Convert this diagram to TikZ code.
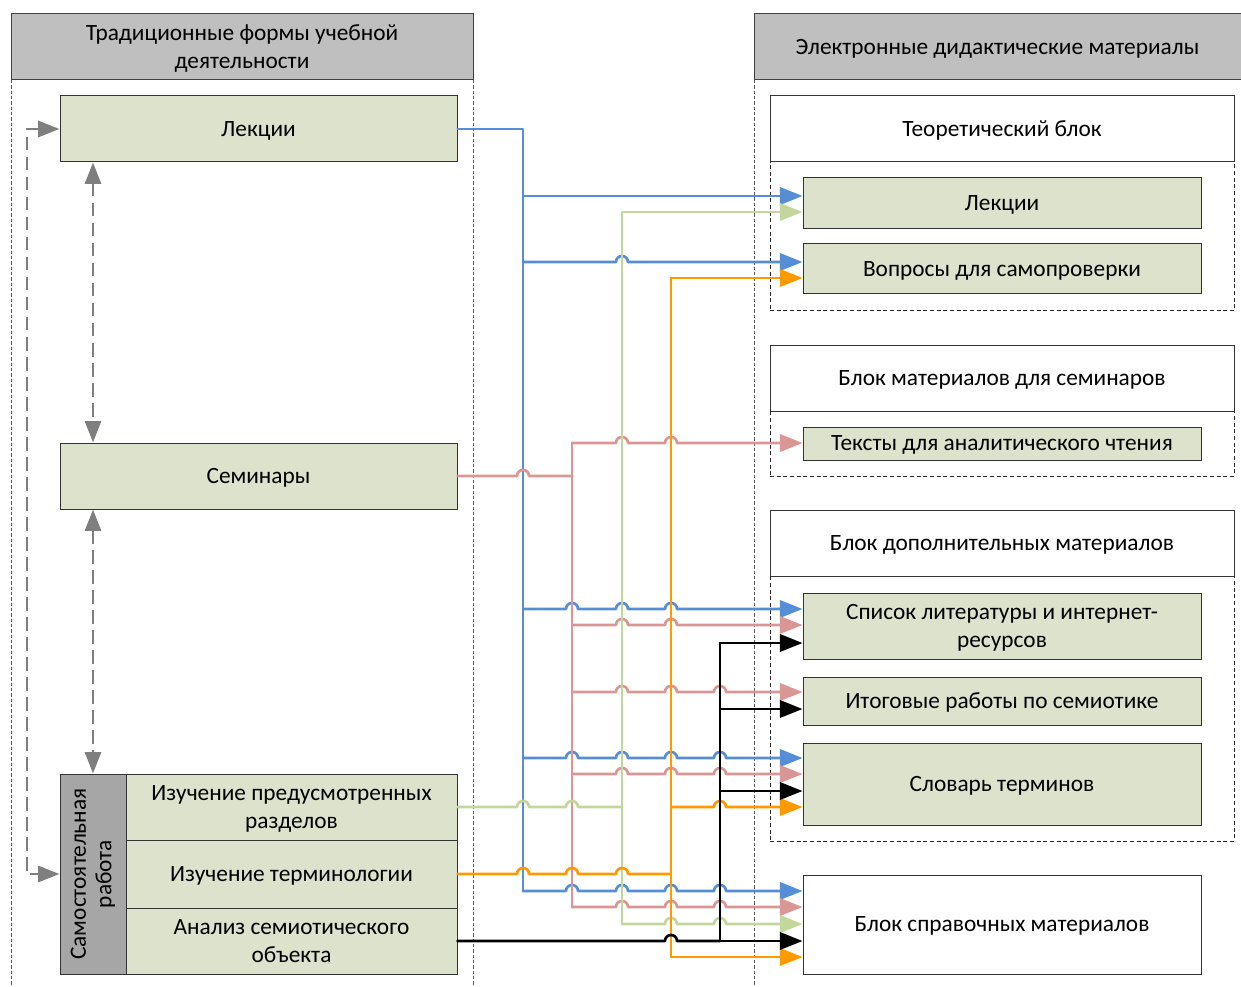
\documentclass[tikz,border=0pt]{standalone}
\usepackage{fontspec}
\setmainfont{Carlito}
\usetikzlibrary{arrows.meta}
\definecolor{bl}{HTML}{558ED5}
\definecolor{pk}{HTML}{D99694}
\definecolor{gr}{HTML}{C3D69B}
\definecolor{org}{HTML}{FF9900}
\definecolor{boxc}{HTML}{DDE2CC}
\definecolor{hdrc}{HTML}{BFBFBF}
\definecolor{sidec}{HTML}{A6A6A6}
\definecolor{grayln}{HTML}{7F7F7F}
\newcommand\mystrut{\rule[-3pt]{0pt}{17pt}}
% \mybox{style}{x1}{y1}{x2}{y2}{name}{text}
\newcommand\mybox[7]{\node[#1, minimum width={(#4-#2)*0.75pt}, minimum height={(#5-#3)*0.75pt}] (#6) at ({(#2+#4)/2},{-(#3+#5)/2}) {\mystrut #7\mystrut};}
\begin{document}
\begin{tikzpicture}[x=0.75pt,y=0.75pt,
  font=\fontsize{17.5}{21}\selectfont,
  box/.style={draw=black!80,line width=0.75pt,fill=boxc,inner sep=0pt,align=center},
  wbox/.style={draw=black!80,line width=0.75pt,fill=white,inner sep=0pt,align=center},
  hdr/.style={draw=black!75,line width=0.75pt,fill=hdrc,inner sep=0pt,align=center},
  side/.style={draw=black!80,line width=0.75pt,fill=sidec,inner sep=0pt,align=center},
  dbox/.style={draw=black!85,line width=0.75pt,dash pattern=on 3pt off 2pt,inner sep=0pt},
  col/.style={draw=black!65,line width=0.75pt,dash pattern=on 2.5pt off 1.5pt},
  ln/.style={line width=2pt,line cap=round,line join=round},
  arr/.style={-{Triangle[length=17pt,width=13pt]}},
  ga/.style={grayln,line width=2pt,dash pattern=on 10pt off 5pt,
    {Triangle[length=16pt,width=12pt]}-{Triangle[length=16pt,width=12pt]}}
]
\useasboundingbox (0,0) rectangle (1241,-987);

% columns
\draw[col] (11,-80) -- (11,-987);
\draw[col] (473,-80) -- (473,-987);
\draw[col] (754,-80) -- (754,-987);
\mybox{hdr}{11}{14}{473}{80}{H1}{Традиционные формы учебной\\деятельности}
\mybox{hdr}{754}{14}{1241}{80}{H2}{Электронные дидактические материалы}

% left boxes
\mybox{box}{60}{96}{457}{162}{L1}{Лекции}
\mybox{box}{60}{443}{457}{509}{S1}{Семинары}
\node[side, minimum width=49.5pt, minimum height=150pt] (sam) at (93,-874) {\rotatebox{90}{\begin{tabular}{@{}c@{}}Самостоятельная\\[-2pt]работа\end{tabular}}};
\mybox{box}{126}{774}{457}{840}{r1}{Изучение предусмотренных\\разделов}
\mybox{box}{126}{840}{457}{908}{r2}{Изучение терминологии}
\mybox{box}{126}{908}{457}{974}{r3}{Анализ семиотического\\объекта}

% right blocks
\mybox{dbox}{770}{162}{1234}{311}{D1}{}
\mybox{wbox}{770}{96}{1234}{162}{B1}{Теоретический блок}
\mybox{box}{803}{178}{1201}{229}{R1}{Лекции}
\mybox{box}{803}{244}{1201}{294}{R2}{Вопросы для самопроверки}

\mybox{dbox}{770}{411}{1234}{476}{D2}{}
\mybox{wbox}{770}{345}{1234}{411}{B2}{Блок материалов для семинаров}
\mybox{box}{803}{427}{1201}{460}{T}{Тексты для аналитического чтения}

\mybox{dbox}{770}{576}{1234}{841}{D3}{}
\mybox{wbox}{770}{510}{1234}{576}{B3}{Блок дополнительных материалов}
\mybox{box}{803}{593}{1201}{659}{R5}{Список литературы и интернет-\\ресурсов}
\mybox{box}{803}{677}{1201}{725}{R6}{Итоговые работы по семиотике}
\mybox{box}{803}{743}{1201}{825}{R7}{Словарь терминов}

\mybox{wbox}{803}{875}{1201}{974}{S}{Блок справочных материалов}

% gray dashed arrows
\draw[ga] (L1.south -| 93,0) -- (S1.north -| 93,0);
\draw[ga] (S1.south -| 93,0) -- (sam.north);
\draw[ga] (L1.west) -- (27,-129) -- (27,-874) -- (sam.west);

% blue
\draw[ln,bl] (L1.east) -- (523,-129) -- (523,-891);
\draw[ln,bl,arr] (523,-196) -- (R1.west |- 0,-196);
\draw[ln,bl,arr] (523,-262) foreach \h in {622}{ -- ({\h-6},-262) arc[start angle=180,end angle=0,radius=4.5pt]} -- (R2.west |- 0,-262);
\draw[ln,bl,arr] (523,-609) foreach \h in {572,622,671}{ -- ({\h-6},-609) arc[start angle=180,end angle=0,radius=4.5pt]} -- (R5.west |- 0,-609);
\draw[ln,bl,arr] (523,-758) foreach \h in {572,622,671,720}{ -- ({\h-6},-758) arc[start angle=180,end angle=0,radius=4.5pt]} -- (R7.west |- 0,-758);
\draw[ln,bl,arr] (523,-891) foreach \h in {572,622,671,720}{ -- ({\h-6},-891) arc[start angle=180,end angle=0,radius=4.5pt]} -- (S.west |- 0,-891);

% pink
\draw[ln,pk] (S1.east) foreach \h in {523}{ -- ({\h-6},-476) arc[start angle=180,end angle=0,radius=4.5pt]} -- (572,-476);
\draw[ln,pk] (572,-443) -- (572,-907);
\draw[ln,pk,arr] (572,-443) foreach \h in {622,671}{ -- ({\h-6},-443) arc[start angle=180,end angle=0,radius=4.5pt]} -- (T.west |- 0,-443);
\draw[ln,pk,arr] (572,-625) foreach \h in {622,671}{ -- ({\h-6},-625) arc[start angle=180,end angle=0,radius=4.5pt]} -- (R5.west |- 0,-625);
\draw[ln,pk,arr] (572,-692) foreach \h in {622,671,720}{ -- ({\h-6},-692) arc[start angle=180,end angle=0,radius=4.5pt]} -- (R6.west |- 0,-692);
\draw[ln,pk,arr] (572,-774) foreach \h in {622,671,720}{ -- ({\h-6},-774) arc[start angle=180,end angle=0,radius=4.5pt]} -- (R7.west |- 0,-774);
\draw[ln,pk,arr] (572,-907) foreach \h in {622,671,720}{ -- ({\h-6},-907) arc[start angle=180,end angle=0,radius=4.5pt]} -- (S.west |- 0,-907);

% green
\draw[ln,gr] (r1.east) foreach \h in {523,572}{ -- ({\h-6},-807) arc[start angle=180,end angle=0,radius=4.5pt]} -- (622,-807);
\draw[ln,gr] (622,-212) -- (622,-924);
\draw[ln,gr,arr] (622,-212) -- (R1.west |- 0,-212);
\draw[ln,gr,arr] (622,-924) foreach \h in {671,720}{ -- ({\h-6},-924) arc[start angle=180,end angle=0,radius=4.5pt]} -- (S.west |- 0,-924);

% orange
\draw[ln,org] (r2.east) foreach \h in {523,572,622}{ -- ({\h-6},-874) arc[start angle=180,end angle=0,radius=4.5pt]} -- (671,-874);
\draw[ln,org] (671,-278) -- (671,-957);
\draw[ln,org,arr] (671,-278) -- (R2.west |- 0,-278);
\draw[ln,org,arr] (671,-807) foreach \h in {720}{ -- ({\h-6},-807) arc[start angle=180,end angle=0,radius=4.5pt]} -- (R7.west |- 0,-807);
\draw[ln,org,arr] (671,-957) -- (S.west |- 0,-957);

% black
\draw[ln] (r3.east) foreach \h in {671}{ -- ({\h-6},-941) arc[start angle=180,end angle=0,radius=4.5pt]} -- (720,-941);
\draw[ln] (720,-643) -- (720,-941);
\draw[ln,arr] (720,-643) -- (R5.west |- 0,-643);
\draw[ln,arr] (720,-709) -- (R6.west |- 0,-709);
\draw[ln,arr] (720,-791) -- (R7.west |- 0,-791);
\draw[ln,arr] (720,-941) -- (S.west |- 0,-941);
\end{tikzpicture}
\end{document}
